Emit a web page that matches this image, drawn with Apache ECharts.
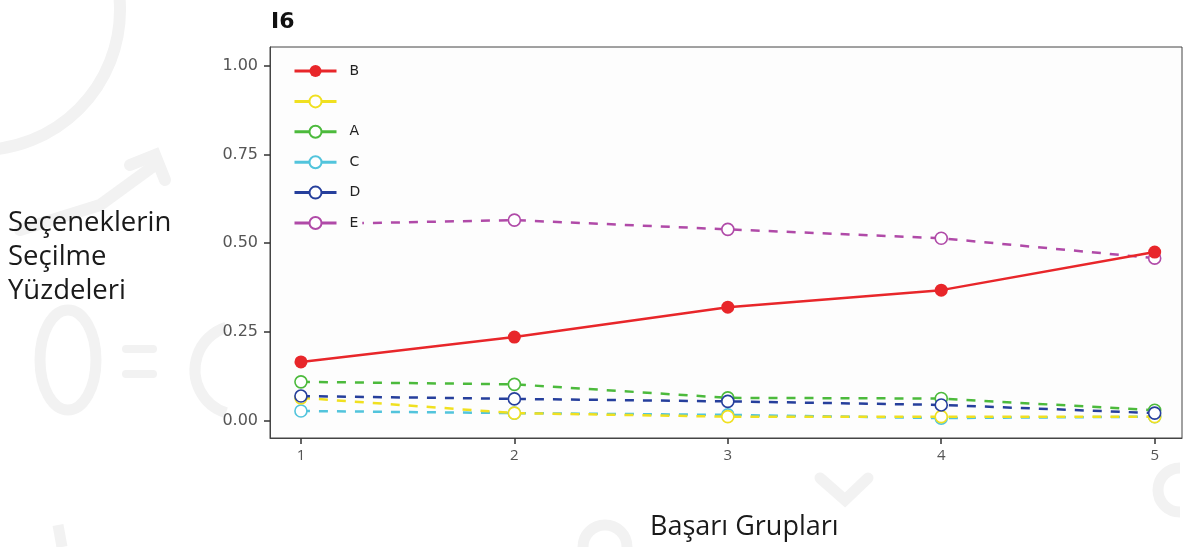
<!DOCTYPE html>
<html>
<head>
<meta charset="utf-8">
<script src="https://cdn.jsdelivr.net/npm/echarts@6/dist/echarts.min.js"></script>
<style>
html,body{margin:0;padding:0;background:#fff;}
#c{width:1187px;height:547px;}
</style>
</head>
<body>
<div id="c"></div>
<script>
const groups = [1, 2, 3, 4, 5];
const yTicks = [0, 0.25, 0.5, 0.75, 1.0];
const seriesNames = ['B', ' ', 'A', 'C', 'D', 'E'];
const valuesB = [0.166, 0.236, 0.320, 0.368, 0.475];
const valuesBlank = [0.065, 0.022, 0.012, 0.012, 0.012];
const valuesA = [0.110, 0.103, 0.065, 0.063, 0.030];
const valuesC = [0.028, 0.022, 0.017, 0.008, 0.012];
const valuesD = [0.070, 0.062, 0.055, 0.045, 0.022];
const valuesE = [0.553, 0.565, 0.539, 0.514, 0.458];
const titleText = 'I6';
const yName = 'Seçeneklerin\nSeçilme\nYüzdeleri';
const xName = 'Başarı Grupları';

const colors = {
  'B': '#e8262a', ' ': '#f0e020', 'A': '#4cba3c', 'C': '#52c4dc', 'D': '#263f9c', 'E': '#b04aa8'
};
const valueMap = {'B': valuesB, ' ': valuesBlank, 'A': valuesA, 'C': valuesC, 'D': valuesD, 'E': valuesE};

function mk(name, z) {
  const solid = name === 'B';
  return {
    name: name,
    type: 'line',
    z: z,
    data: groups.map((g, i) => [g, valueMap[name][i]]),
    symbol: 'circle',
    symbolSize: solid ? 13 : 12,
    showSymbol: true,
    lineStyle: { color: colors[name], width: 2.5, type: solid ? 'solid' : [9, 9] },
    itemStyle: { color: solid ? colors[name] : '#fff', borderColor: colors[name], borderWidth: solid ? 0 : 1.6 },
    emphasis: { disabled: true },
    animation: false
  };
}

const chart = echarts.init(document.getElementById('c'), null, { renderer: 'canvas' });
const wm = '#f2f2f2';
chart.setOption({
  animation: false,
  backgroundColor: '#fff',
  graphic: [
    { type: 'arc', z: -10, shape: { cx: -20, cy: 10, r: 140, startAngle: -Math.PI/2, endAngle: Math.PI*0.75 }, style: { stroke: wm, lineWidth: 12, fill: null } },
    { type: 'polyline', z: -10, shape: { points: [[20,230],[100,205],[155,165]] }, style: { stroke: wm, lineWidth: 12, fill: null, lineCap: 'round' } },
    { type: 'polyline', z: -10, shape: { points: [[130,165],[155,155],[165,180]] }, style: { stroke: wm, lineWidth: 12, fill: null, lineCap: 'round' } },
    { type: 'ellipse', z: -10, shape: { cx: 68, cy: 360, rx: 28, ry: 50 }, style: { stroke: wm, lineWidth: 11, fill: null } },
    { type: 'rect', z: -10, shape: { x: 122, y: 345, width: 35, height: 8, r: 4 }, style: { fill: wm } },
    { type: 'rect', z: -10, shape: { x: 122, y: 370, width: 35, height: 8, r: 4 }, style: { fill: wm } },
    { type: 'arc', z: -10, shape: { cx: 240, cy: 370, r: 45, startAngle: Math.PI*0.6, endAngle: Math.PI*1.4 }, style: { stroke: wm, lineWidth: 11, fill: null } },
    { type: 'polyline', z: -10, shape: { points: [[820,478],[845,500],[868,478]] }, style: { stroke: wm, lineWidth: 11, fill: null, lineCap: 'round' } },
    { type: 'arc', z: -10, shape: { cx: 1180, cy: 490, r: 22, startAngle: Math.PI*0.5, endAngle: Math.PI*1.5 }, style: { stroke: wm, lineWidth: 11, fill: null } },
    { type: 'polyline', z: -10, shape: { points: [[58,525],[62,547]] }, style: { stroke: wm, lineWidth: 11, fill: null } },
    { type: 'arc', z: -10, shape: { cx: 605, cy: 547, r: 22, startAngle: Math.PI, endAngle: Math.PI*2 }, style: { stroke: wm, lineWidth: 11, fill: null } },
    { type: 'text', left: 271, top: 11, style: { text: titleText, font: 'bold 22px "DejaVu Sans"', fill: '#111' } },
    { type: 'text', left: 8, top: 206, style: { text: yName, font: '27.5px "Open Sans"', fill: '#1a1a1a', lineHeight: 34 } },
    { type: 'text', left: 650, top: 514, style: { text: xName, font: '27px "Open Sans"', fill: '#1a1a1a' } }
  ],
  grid: { left: 270, top: 47, right: 5, bottom: 109, show: true, borderColor: '#444', borderWidth: 1, backgroundColor: '#fdfdfd' },
  legend: {
    orient: 'vertical', left: 285, top: 57,
    padding: [7, 2, 9, 8],
    backgroundColor: '#fdfdfd',
    z: 20,
    data: seriesNames,
    itemWidth: 42, itemHeight: 15, itemGap: 16.4,
    lineStyle: { type: 'solid', width: 3 },
    textStyle: { fontSize: 14, color: '#222', fontFamily: 'DejaVu Sans', padding: [0, 0, 0, 8] },
    selectedMode: false
  },
  xAxis: {
    type: 'value', min: 0.855, max: 5.128,
    axisLine: { show: true, onZero: false, lineStyle: { color: '#444', width: 1 } },
    axisTick: { show: true, customValues: groups, length: 6, lineStyle: { color: '#333', width: 1.5 } },
    axisLabel: { customValues: groups, color: '#555', fontSize: 15, fontFamily: 'Open Sans', margin: 10 },
    splitLine: { show: false }
  },
  yAxis: {
    type: 'value', min: -0.048, max: 1.052,
    axisLine: { show: true, onZero: false, lineStyle: { color: '#444', width: 1 } },
    axisTick: { show: true, customValues: yTicks, length: 6, lineStyle: { color: '#333', width: 1.5 } },
    axisLabel: { customValues: yTicks, color: '#555', fontSize: 16, fontFamily: 'DejaVu Sans', margin: 12, formatter: v => v.toFixed(2) },
    splitLine: { show: false }
  },
  series: [mk('C', 2), mk(' ', 3), mk('A', 4), mk('D', 5), mk('E', 6), mk('B', 7)]
});
</script>
</body>
</html>
